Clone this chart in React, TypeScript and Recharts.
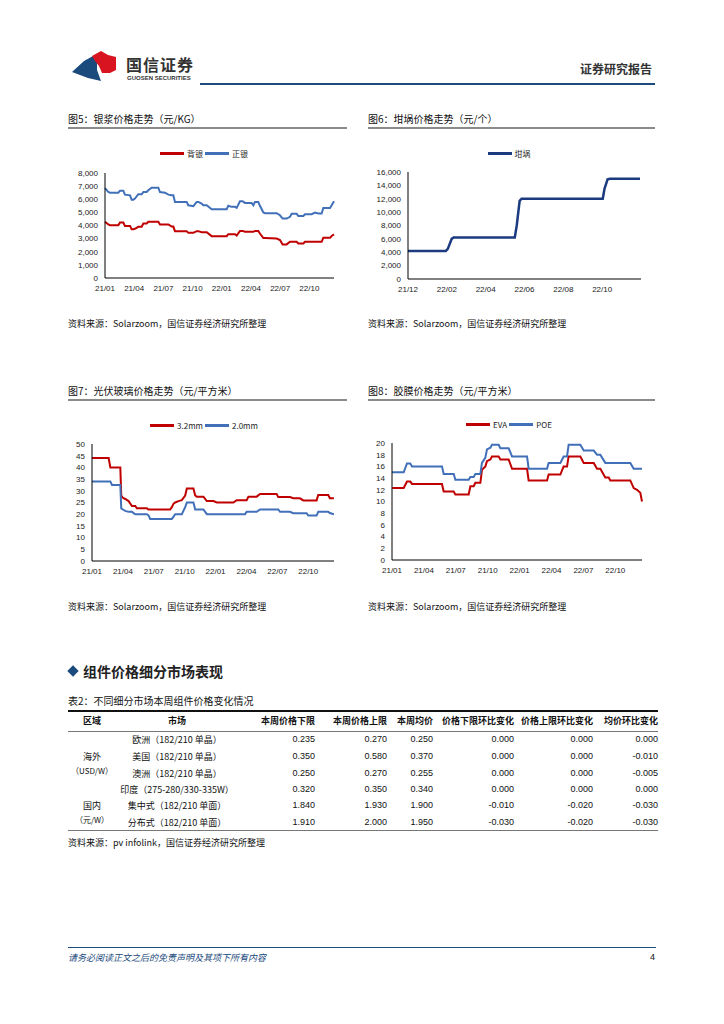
import React from 'react';
import { LineChart, Line, XAxis, YAxis, Legend } from 'recharts';

// 图5 银浆 (month index from 21/01)
const silverMonths = [
  0, 0.34, 0.51, 1.37, 1.54, 1.88, 2.05, 2.57, 2.74, 2.91,
  3.08, 3.42, 3.77, 3.94, 4.28, 4.45, 4.79, 5.48, 5.65, 6.16,
  6.51, 6.85, 7.02, 7.19, 8.39, 8.56, 9.08, 9.42, 9.59, 9.93,
  10.1, 10.45, 10.96, 12.5, 12.67, 13.01, 13.36, 13.53, 13.87, 14.14,
  14.38, 15.07, 15.24, 15.41, 15.75, 15.92, 16.27, 16.44, 17.64, 17.98,
  18.25, 18.66, 19.01, 19.18, 19.69, 19.86, 20.38, 20.55, 20.89, 21.23,
  21.58, 21.92, 22.26, 22.43, 23.12, 23.29, 23.53,
];
const frontSilver = [
  6850, 6550, 6500, 6500, 6650, 6650, 6350, 6300, 5970, 5970,
  6050, 6380, 6380, 6550, 6550, 6680, 6880, 6880, 6550, 6500,
  6350, 6300, 6300, 5800, 5800, 5540, 5470, 5800, 5800, 5670,
  5540, 5540, 5240, 5240, 5500, 5420, 5420, 5340, 5850, 5850,
  5720, 5720, 5540, 5800, 5800, 5500, 4990, 4940, 4940, 4780,
  4530, 4530, 4660, 4890, 4890, 4730, 4730, 4860, 4860, 4860,
  4990, 4910, 4910, 5340, 5340, 5540, 5850,
];
const backSilver = [
  4280, 4080, 4020, 4020, 4230, 4230, 3970, 3970, 3720, 3720,
  3750, 3900, 3900, 4150, 4150, 4280, 4280, 4280, 4080, 4080,
  4080, 3920, 3920, 3570, 3570, 3440, 3440, 3570, 3570, 3490,
  3490, 3490, 3190, 3190, 3340, 3340, 3340, 3240, 3590, 3590,
  3520, 3520, 3520, 3590, 3590, 3390, 3040, 3040, 3010, 2890,
  2560, 2560, 2760, 2760, 2760, 2630, 2630, 2760, 2760, 2760,
  2760, 2760, 2760, 3060, 3060, 3200, 3320,
];
const quarterLabels = ['21/01', '21/04', '21/07', '21/10', '22/01', '22/04', '22/07', '22/10'];
const quarterTicks = [0, 3, 6, 9, 12, 15, 18, 21];

// 图6 坩埚 (month index from 21/12)
const crucibleMonths = [0, 1.95, 2.05, 2.25, 2.35, 5.5, 5.6, 5.75, 5.85, 10.03, 10.12, 10.28, 10.4, 11.95];
const crucible = [4200, 4200, 4500, 6000, 6200, 6200, 8000, 11700, 12000, 12000, 13500, 14900, 15000, 15000];
const crucibleLabels = ['21/12', '22/02', '22/04', '22/06', '22/08', '22/10'];
const crucibleTicks = [0, 2, 4, 6, 8, 10];

// 图7 光伏玻璃
const glassMonths = [
  0, 1.62, 1.78, 1.94, 2.75, 2.84, 3.0, 3.23, 3.55, 3.88,
  4.2, 4.36, 5.33, 5.49, 5.65, 7.59, 7.75, 7.92, 8.08, 8.4,
  8.72, 9.05, 9.21, 9.85, 10.02, 10.18, 10.82, 11.15, 11.79, 12.12,
  13.73, 14.05, 14.86, 15.02, 15.19, 15.99, 16.32, 17.93, 18.09, 18.26,
  19.22, 19.55, 20.19, 20.52, 20.84, 21.0, 21.81, 21.97, 22.94, 23.1,
  23.49,
];
const glass32 = [
  44, 44, 40, 40, 40, 28, 27, 26.5, 25.6, 23.5,
  23.5, 22.5, 22.5, 22, 22, 22, 23, 24.5, 25, 25.6,
  26, 28, 31, 31, 28, 27.5, 27.5, 25.6, 25.6, 25,
  25, 26, 26, 26, 27.5, 27.5, 28.6, 28.6, 27.3, 27.3,
  27.3, 26.8, 26.8, 25.9, 25.9, 25.9, 25.9, 28.2, 28.2, 26.8,
  26.8,
];
const glass20 = [
  34, 34, 34, 32.5, 32.5, 22.5, 22, 21.4, 21, 21,
  20, 20, 20, 19.5, 18, 18, 18, 19, 20, 20,
  20, 23, 25, 25, 22, 22, 22, 20, 20, 20,
  20, 20, 20, 21, 21, 21, 22, 22, 22, 21,
  21, 20.4, 20.4, 20.4, 20.4, 19.4, 19.4, 21, 21, 20.5,
  20,
];

// 图8 胶膜
const filmMonths = [
  0, 1.1, 1.41, 1.72, 1.88, 4.7, 4.86, 5.8, 5.96, 7.21,
  7.37, 7.68, 7.84, 8.31, 8.46, 8.78, 8.93, 9.25, 9.4, 10.03,
  10.19, 10.97, 11.29, 12.7, 12.85, 14.58, 14.73, 15.83, 16.14, 16.46,
  16.61, 17.71, 18.03, 18.97, 19.28, 19.59, 20.06, 20.38, 20.53, 22.41,
  22.73, 23.04, 23.35, 23.51,
];
const eva = [
  12.3, 12.3, 13.4, 13.4, 13, 13, 11.7, 11.7, 11.2, 11.2,
  12.6, 12.6, 13.2, 13.2, 15.4, 16, 16.9, 17.2, 17.7, 17.7,
  17.2, 17.2, 15.6, 15.6, 13.6, 13.6, 14.6, 14.6, 16, 16,
  17.7, 17.7, 16.6, 16.6, 15.6, 15.6, 14.1, 14.1, 13.6, 13.6,
  12.3, 12, 11.5, 10,
];
const poe = [
  15, 15, 16.5, 16.5, 16, 16, 14.7, 14.7, 13.7, 13.7,
  14.2, 14.2, 14.7, 14.7, 16.6, 17.5, 18.9, 19.2, 19.7, 19.7,
  19.1, 19.1, 17.7, 17.7, 15.6, 15.6, 16.6, 16.6, 17.7, 17.7,
  19.7, 19.7, 18.7, 18.7, 18, 18, 16.6, 16.6, 16.6, 16.6,
  15.6, 15.6, 15.6, 15.6,
];

// 表2
const tableHeaders = ['本周价格下限', '本周价格上限', '本周均价', '价格下限环比变化', '价格上限环比变化', '均价环比变化'];
const markets = ['欧洲（182/210 单晶）', '美国（182/210 单晶）', '澳洲（182/210 单晶）', '印度（275-280/330-335W）', '集中式（182/210 单面）', '分布式（182/210 单面）'];
const lowPrice = ['0.235', '0.350', '0.250', '0.320', '1.840', '1.910'];
const highPrice = ['0.270', '0.580', '0.270', '0.350', '1.930', '2.000'];
const avgPrice = ['0.250', '0.370', '0.255', '0.340', '1.900', '1.950'];
const lowChange = ['0.000', '0.000', '0.000', '0.000', '-0.010', '-0.030'];
const highChange = ['0.000', '0.000', '0.000', '0.000', '-0.020', '-0.020'];
const avgChange = ['0.000', '-0.010', '-0.005', '0.000', '-0.030', '-0.030'];

const CJK = '"Noto Sans CJK SC", "Noto Sans", sans-serif';
const TICK = '"Liberation Sans", Arial, sans-serif';
const RED = '#C00000';
const BLUE = '#4170B8';
const colRight = [315, 387, 433, 514, 593, 658];
const rowY = [739, 756, 773, 789, 805, 822];

const silverData = silverMonths.map((m, i) => ({ m, front: frontSilver[i], back: backSilver[i] }));
const crucibleData = crucibleMonths.map((m, i) => ({ m, v: crucible[i] }));
const glassData = glassMonths.map((m, i) => ({ m, a: glass32[i], b: glass20[i] }));
const filmData = filmMonths.map((m, i) => ({ m, eva: eva[i], poe: poe[i] }));

function Txt({ x, y, size = 9, children, style }: { x: number; y: number; size?: number; children: React.ReactNode; style?: React.CSSProperties }) {
  return (
    <div style={{ position: 'absolute', left: x, top: y - size / 2 - 1, fontSize: size, lineHeight: `${size + 2}px`, whiteSpace: 'nowrap', fontFamily: CJK, color: '#111', ...style }}>
      {children}
    </div>
  );
}

function LegendRow({ payload, order }: { payload?: Array<{ value: string; color: string }>; order: string[] }) {
  const items = [...(payload || [])].sort((a, b) => order.indexOf(a.value) - order.indexOf(b.value));
  return (
    <div style={{ display: 'flex', justifyContent: 'center', alignItems: 'center', fontFamily: CJK, fontSize: 8, color: '#222' }}>
      {items.map((p) => (
        <span key={p.value} style={{ display: 'flex', alignItems: 'center', marginRight: 2 }}>
          <span style={{ display: 'inline-block', width: 24, height: 2.5, background: p.color, marginRight: 3 }} />
          {p.value}
        </span>
      ))}
    </div>
  );
}

const tickStyle = { fontSize: 8, fill: '#222', fontFamily: TICK };
const fmtThousands = (v: number) => v.toLocaleString('en-US');

function ChartTitle({ x, y, width, text }: { x: number; y: number; width: number; text: string }) {
  return (
    <>
      <Txt x={x} y={y} size={10}>{text}</Txt>
      <div style={{ position: 'absolute', left: x, top: y + 8, width, height: 2, background: '#8a8a8a' }} />
    </>
  );
}

export default function App() {
  const lineProps = { dot: false, isAnimationActive: false, type: 'linear' as const };
  return (
    <div style={{ position: 'absolute', left: 0, top: 0, width: 724, height: 1024, background: '#fff', fontFamily: CJK, overflow: 'hidden' }}>
      {/* header */}
      <svg style={{ position: 'absolute', left: 66, top: 48 }} width={55} height={40}>
        <polygon points="6,24 18,13 27,8 31,12 31,22 35,33 22,30 14,27" fill="#1B4A7C" />
        <polygon points="26,8 35,3 42,7 50,9 50,22 44,25 36,25 33,18 29,13" fill="#D7141F" />
      </svg>
      <Txt x={126} y={64} size={16} style={{ fontWeight: 700, color: '#333', letterSpacing: 1 }}>国信证券</Txt>
      <Txt x={127} y={78} size={6} style={{ fontFamily: TICK, color: '#333', fontWeight: 700 }}>GUOSEN SECURITIES</Txt>
      <Txt x={580} y={69} size={12} style={{ fontWeight: 700, color: '#333' }}>证券研究报告</Txt>
      <div style={{ position: 'absolute', left: 200, top: 83, width: 455, height: 2, background: '#1B4A7C' }} />

      {/* 图5 */}
      <ChartTitle x={68} y={119} width={279} text="图5：银浆价格走势（元/KG）" />
      <div style={{ position: 'absolute', left: 60, top: 140 }}>
        <LineChart width={290} height={160} data={silverData} margin={{ top: 33, right: 16, left: 0, bottom: 0 }}>
          <XAxis dataKey="m" type="number" domain={[0, 23.5]} ticks={quarterTicks} tickFormatter={(v: number) => quarterLabels[v / 3]} height={22} tickLine={false} tickSize={0} tickMargin={7} axisLine={{ stroke: '#000' }} tick={tickStyle} interval={0} />
          <YAxis domain={[0, 8000]} ticks={[0, 1000, 2000, 3000, 4000, 5000, 6000, 7000, 8000]} tickFormatter={fmtThousands} width={45} tickLine={false} tickSize={0} tickMargin={7} axisLine={{ stroke: '#000' }} tick={tickStyle} interval={0} />
          <Legend layout="horizontal" verticalAlign="middle" align="center" wrapperStyle={{ top: 8, left: 0, width: 290, height: 12 }} content={<LegendRow order={['背银', '正银']} />} />
          <Line dataKey="back" name="背银" stroke={RED} strokeWidth={2} {...lineProps} />
          <Line dataKey="front" name="正银" stroke={BLUE} strokeWidth={2} {...lineProps} />
        </LineChart>
      </div>
      <Txt x={68} y={323} size={9}>资料来源：Solarzoom，国信证券经济研究所整理</Txt>

      {/* 图6 */}
      <ChartTitle x={368} y={119} width={287} text="图6：坩埚价格走势（元/个）" />
      <div style={{ position: 'absolute', left: 360, top: 140 }}>
        <LineChart width={300} height={161} data={crucibleData} margin={{ top: 32, right: 19, left: 0, bottom: 0 }}>
          <XAxis dataKey="m" type="number" domain={[0, 12]} ticks={crucibleTicks} tickFormatter={(v: number) => crucibleLabels[v / 2]} height={22} tickLine={false} tickSize={0} tickMargin={7} axisLine={{ stroke: '#000' }} tick={tickStyle} interval={0} />
          <YAxis domain={[0, 16000]} ticks={[0, 2000, 4000, 6000, 8000, 10000, 12000, 14000, 16000]} tickFormatter={fmtThousands} width={48} tickLine={false} tickSize={0} tickMargin={7} axisLine={{ stroke: '#000' }} tick={tickStyle} interval={0} />
          <Legend layout="horizontal" verticalAlign="middle" align="center" wrapperStyle={{ top: 8, left: 0, width: 300, height: 12 }} content={<LegendRow order={['坩埚']} />} />
          <Line dataKey="v" name="坩埚" stroke="#1B3A80" strokeWidth={2.5} {...lineProps} />
        </LineChart>
      </div>
      <Txt x={368} y={323} size={9}>资料来源：Solarzoom，国信证券经济研究所整理</Txt>

      {/* 图7 */}
      <ChartTitle x={68} y={391} width={279} text="图7：光伏玻璃价格走势（元/平方米）" />
      <div style={{ position: 'absolute', left: 60, top: 412 }}>
        <LineChart width={290} height={171} data={glassData} margin={{ top: 32, right: 16, left: 0, bottom: 0 }}>
          <XAxis dataKey="m" type="number" domain={[0, 23.5]} ticks={quarterTicks} tickFormatter={(v: number) => quarterLabels[v / 3]} height={22} tickLine={false} tickSize={0} tickMargin={7} axisLine={{ stroke: '#000' }} tick={tickStyle} interval={0} />
          <YAxis domain={[0, 50]} ticks={[0, 5, 10, 15, 20, 25, 30, 35, 40, 45, 50]} width={32} tickLine={false} tickSize={0} tickMargin={7} axisLine={{ stroke: '#000' }} tick={tickStyle} interval={0} />
          <Legend layout="horizontal" verticalAlign="middle" align="center" wrapperStyle={{ top: 8, left: 0, width: 290, height: 12 }} content={<LegendRow order={['3.2mm', '2.0mm']} />} />
          <Line dataKey="a" name="3.2mm" stroke={RED} strokeWidth={2} {...lineProps} />
          <Line dataKey="b" name="2.0mm" stroke={BLUE} strokeWidth={2} {...lineProps} />
        </LineChart>
      </div>
      <Txt x={68} y={606} size={9}>资料来源：Solarzoom，国信证券经济研究所整理</Txt>

      {/* 图8 */}
      <ChartTitle x={368} y={391} width={287} text="图8：胶膜价格走势（元/平方米）" />
      <div style={{ position: 'absolute', left: 360, top: 411 }}>
        <LineChart width={300} height={171} data={filmData} margin={{ top: 32, right: 18, left: 0, bottom: 0 }}>
          <XAxis dataKey="m" type="number" domain={[0, 23.5]} ticks={quarterTicks} tickFormatter={(v: number) => quarterLabels[v / 3]} height={22} tickLine={false} tickSize={0} tickMargin={7} axisLine={{ stroke: '#000' }} tick={tickStyle} interval={0} />
          <YAxis domain={[0, 20]} ticks={[0, 2, 4, 6, 8, 10, 12, 14, 16, 18, 20]} width={32} tickLine={false} tickSize={0} tickMargin={7} axisLine={{ stroke: '#000' }} tick={tickStyle} interval={0} />
          <Legend layout="horizontal" verticalAlign="middle" align="center" wrapperStyle={{ top: 8, left: 0, width: 300, height: 12 }} content={<LegendRow order={['EVA', 'POE']} />} />
          <Line dataKey="eva" name="EVA" stroke={RED} strokeWidth={2} {...lineProps} />
          <Line dataKey="poe" name="POE" stroke={BLUE} strokeWidth={2} {...lineProps} />
        </LineChart>
      </div>
      <Txt x={368} y={606} size={9}>资料来源：Solarzoom，国信证券经济研究所整理</Txt>

      {/* 组件价格细分市场表现 */}
      <div style={{ position: 'absolute', left: 69, top: 667, width: 8, height: 8, background: '#1B4A7C', transform: 'rotate(45deg)' }} />
      <Txt x={83} y={671} size={14} style={{ fontWeight: 700, color: '#222' }}>组件价格细分市场表现</Txt>
      <Txt x={68} y={701} size={10}>表2：不同细分市场本周组件价格变化情况</Txt>
      <div style={{ position: 'absolute', left: 68, top: 710, width: 590, height: 2, background: '#111' }} />
      <div style={{ position: 'absolute', left: 68, top: 731, width: 590, height: 1, background: '#777' }} />
      <div style={{ position: 'absolute', left: 68, top: 830, width: 590, height: 1, background: '#777' }} />
      <Txt x={78} y={720} size={9} style={{ width: 28, textAlign: 'center', fontWeight: 700 }}>区域</Txt>
      <Txt x={155} y={720} size={9} style={{ width: 44, textAlign: 'center', fontWeight: 700 }}>市场</Txt>
      {tableHeaders.map((h, c) => (
        <Txt key={h} x={colRight[c] - 90} y={720} size={9} style={{ width: 90, textAlign: 'right', fontWeight: 700 }}>{h}</Txt>
      ))}
      {markets.map((mk, r) => {
        const cells = [lowPrice[r], highPrice[r], avgPrice[r], lowChange[r], highChange[r], avgChange[r]];
        return (
          <React.Fragment key={mk}>
            <Txt x={107} y={rowY[r]} size={9} style={{ width: 140, textAlign: 'center' }}>{mk}</Txt>
            {cells.map((v, c) => (
              <Txt key={c} x={colRight[c] - 60} y={rowY[r]} size={9} style={{ width: 60, textAlign: 'right', fontFamily: TICK }}>{v}</Txt>
            ))}
          </React.Fragment>
        );
      })}
      <Txt x={62} y={756} size={9} style={{ width: 60, textAlign: 'center' }}>海外</Txt>
      <Txt x={62} y={771} size={8} style={{ width: 60, textAlign: 'center' }}>（USD/W）</Txt>
      <Txt x={62} y={805} size={9} style={{ width: 60, textAlign: 'center' }}>国内</Txt>
      <Txt x={62} y={820} size={8} style={{ width: 60, textAlign: 'center' }}>（元/W）</Txt>
      <Txt x={68} y={842} size={9}>资料来源：pv infolink，国信证券经济研究所整理</Txt>

      {/* footer */}
      <div style={{ position: 'absolute', left: 68, top: 947, width: 588, height: 1, background: '#1B4A7C' }} />
      <Txt x={68} y={957} size={9} style={{ fontStyle: 'italic', color: '#1B4A7C' }}>请务必阅读正文之后的免责声明及其项下所有内容</Txt>
      <Txt x={650} y={957} size={9} style={{ fontFamily: TICK }}>4</Txt>
    </div>
  );
}
